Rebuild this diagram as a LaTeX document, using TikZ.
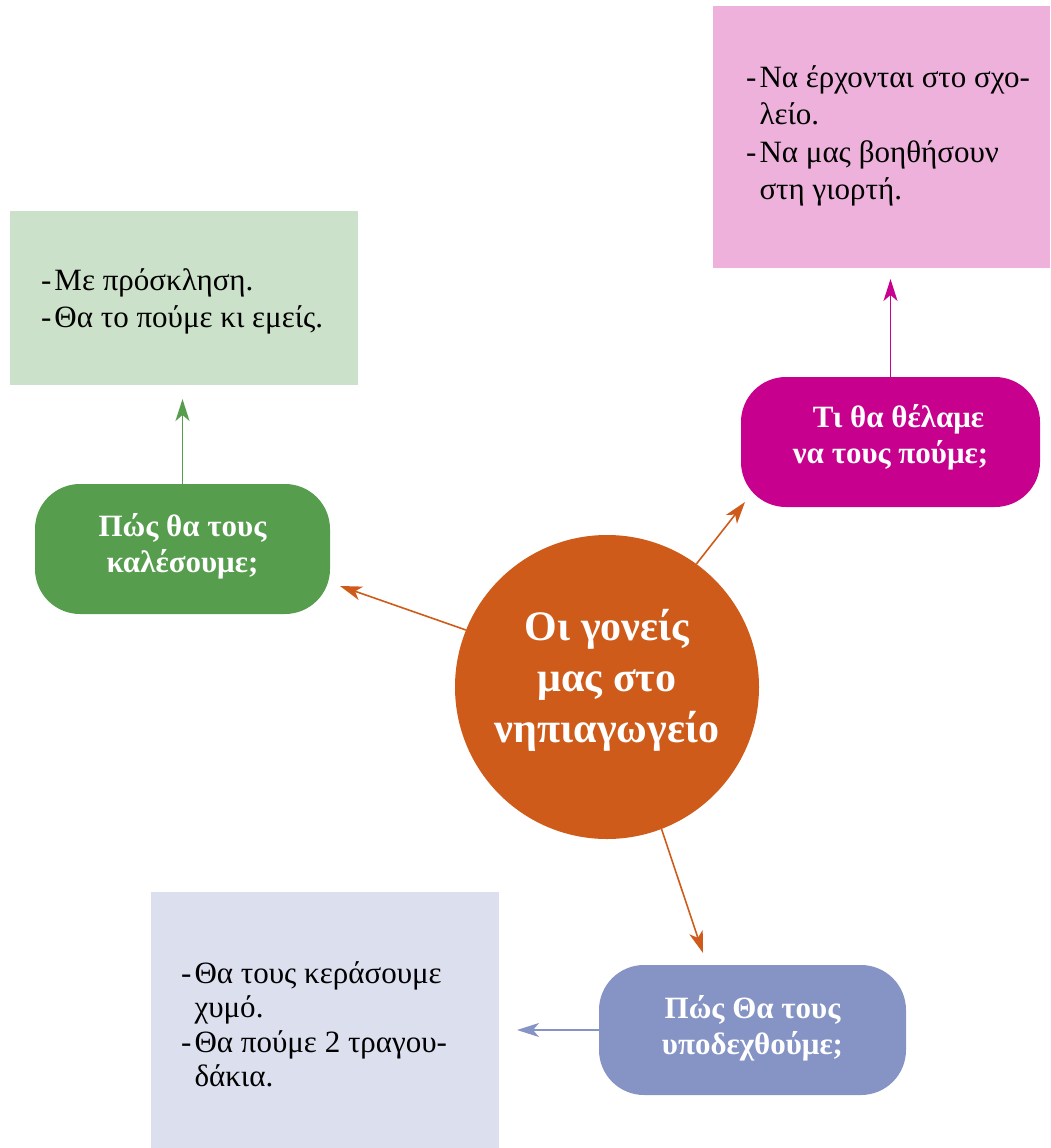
\documentclass[tikz,border=0pt]{standalone}
\usepackage{fontspec}
\setmainfont{Liberation Serif}
\usetikzlibrary{arrows.meta,calc}
\definecolor{pinkbg}{HTML}{EDB1DB}
\definecolor{magq}{HTML}{C7008E}
\definecolor{greenbg}{HTML}{CCE1CA}
\definecolor{greenq}{HTML}{569D4E}
\definecolor{orangec}{HTML}{CF5B1B}
\definecolor{lavbg}{HTML}{DCDFEE}
\definecolor{blueq}{HTML}{8594C5}
\begin{document}
\begin{tikzpicture}[x=1pt,y=-1pt,
  arr/.style={line width=1.6pt,-{Stealth[length=22pt,width=14pt,inset=6pt]}},
  notebox/.style={rectangle,inner sep=0pt,draw=none},
  qbox/.style={rectangle,rounded corners=45pt,minimum height=130pt,inner sep=0pt,
    text=white,align=center,font=\bfseries\fontsize{31}{36}\selectfont},
  bodytext/.style={anchor=base west,inner sep=0pt,font=\fontsize{31}{37.5}\selectfont}
]
\useasboundingbox (0,0) rectangle (1050,1148);

% note boxes
\node[notebox,fill=pinkbg,minimum width=337pt,minimum height=262pt] (pinkbox) at (881.5,137) {};
\node[notebox,fill=greenbg,minimum width=348pt,minimum height=174pt] (greenbox) at (184,298) {};
\node[notebox,fill=lavbg,minimum width=348pt,minimum height=256pt] (lavbox) at (325,1020) {};

% note texts
\node[bodytext] (pinktext) at (746,87) {\begin{tabular}[t]{@{}l@{\hspace{3pt}}l@{}}
-&Να έρχονται στο σχο-\\
 &λείο.\\
-&Να μας βοηθήσουν\\
 &στη γιορτή.
\end{tabular}};
\node[bodytext] (greentext) at (41,290) {\begin{tabular}[t]{@{}l@{\hspace{3pt}}l@{}}
-&Με πρόσκληση.\\
-&Θα το πούμε κι εμείς.
\end{tabular}};
\node[bodytext,font=\fontsize{31}{34.5}\selectfont] (lavtext) at (181,983) {\begin{tabular}[t]{@{}l@{\hspace{3pt}}l@{}}
-&Θα τους κεράσουμε\\
 &χυμό.\\
-&Θα πούμε 2 τραγου-\\
 &δάκια.
\end{tabular}};

% question boxes
\node[qbox,fill=magq,minimum width=299pt] (magbox) at (890.5,442) {\hspace*{16pt}Τι θα θέλαμε\\να τους πούμε;\rule[-16pt]{0pt}{0pt}};
\node[qbox,fill=greenq,minimum width=295pt] (grbox) at (182.5,549) {Πώς θα τους\\καλέσουμε;\rule[-12pt]{0pt}{0pt}};
\node[qbox,fill=blueq,minimum width=307pt] (blbox) at (752.5,1030) {Πώς Θα τους\\υποδεχθούμε;\rule[-10pt]{0pt}{0pt}};

% central circle
\node[circle,fill=orangec,minimum size=304pt,inner sep=0pt,text=white,align=center,
  font=\bfseries\fontsize{42}{51}\selectfont] (center) at (607,687)
  {Οι γονείς\\μας στο\\νηπιαγωγείο\rule[-22pt]{0pt}{0pt}};

% arrow end points
\coordinate (tipG) at (340,586);
\coordinate (tipM) at (745,502);
\coordinate (tipB) at (703,953);
\coordinate (tipGL) at (182.5,399);
\coordinate (tipPK) at (890.5,279);
\coordinate (tipLV) at (517,1030);

% connectors
\draw[arr,orangec] (center.158.8) -- (tipG);
\draw[arr,orangec] (center.54) -- (tipM);
\draw[arr,orangec] (center.-69.4) -- (tipB);
\draw[arr,greenq] (grbox.north) -- (tipGL);
\draw[arr,magq] (magbox.north) -- (tipPK);
\draw[arr,blueq] (blbox.west) -- (tipLV);
\end{tikzpicture}
\end{document}
